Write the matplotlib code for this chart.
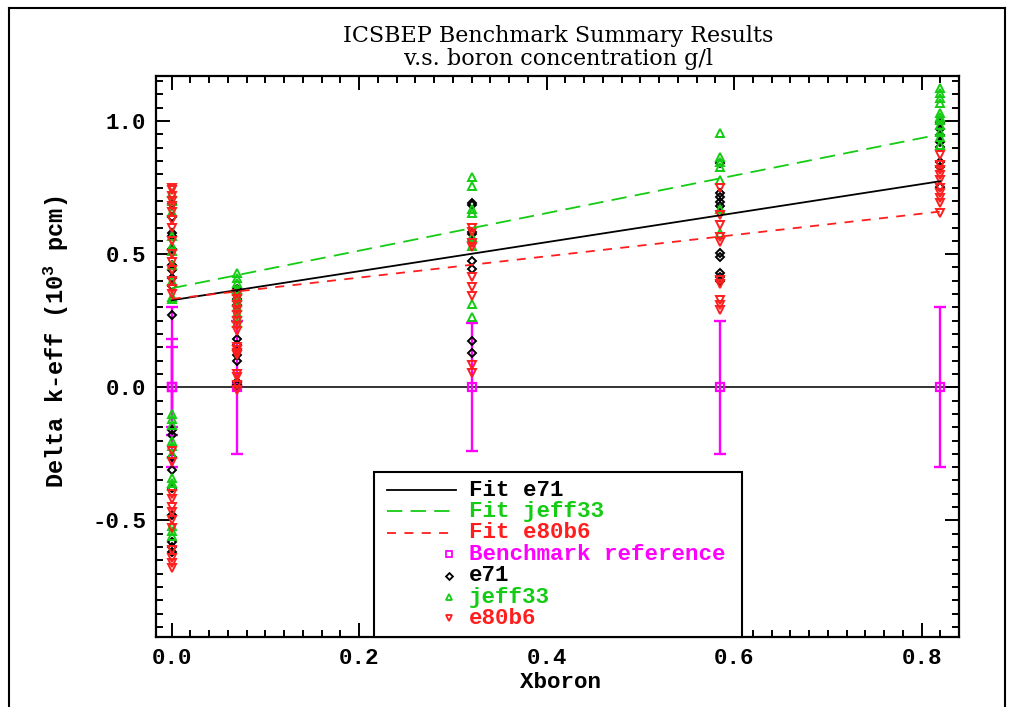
import numpy as np
import matplotlib
matplotlib.use("Agg")
import matplotlib.pyplot as plt
from matplotlib.lines import Line2D
from matplotlib.patches import Rectangle

plt.rcParams['axes.unicode_minus'] = False
plt.rcParams['lines.scale_dashes'] = False
plt.rcParams['mathtext.fontset'] = 'custom'
plt.rcParams['mathtext.rm'] = 'Liberation Mono:bold'
plt.rcParams['mathtext.it'] = 'Liberation Mono:bold'

# ---------------- data ----------------
boron = [0.0, 0.07, 0.32, 0.585, 0.82]

e71_dk = [
    [0.69, 0.64, 0.58, 0.57, 0.52, 0.46, 0.44, 0.41, 0.38, 0.27,
     -0.16, -0.18, -0.26, -0.31, -0.38, -0.48, -0.58, -0.60, -0.62],
    [0.37, 0.35, 0.33, 0.31, 0.18, 0.16, 0.14, 0.12, 0.10, 0.02, 0.01],
    [0.693, 0.685, 0.584, 0.576, 0.475, 0.443, 0.175, 0.128],
    [0.841, 0.728, 0.713, 0.697, 0.681, 0.503, 0.488, 0.430, 0.415, 0.400],
    [0.991, 0.969, 0.947, 0.922, 0.901, 0.847, 0.828, 0.753],
]
jeff33_dk = [
    [0.73, 0.70, 0.66, 0.57, 0.53, 0.51, 0.46, 0.40, 0.34, 0.33,
     -0.10, -0.12, -0.14, -0.20, -0.22, -0.25, -0.34, -0.36, -0.37,
     -0.52, -0.54, -0.56],
    [0.43, 0.41, 0.39, 0.37, 0.36, 0.34, 0.32, 0.30, 0.28, 0.26, 0.24],
    [0.791, 0.756, 0.668, 0.653, 0.566, 0.531, 0.313, 0.265],
    [0.956, 0.864, 0.847, 0.828, 0.778, 0.668, 0.578],
    [1.123, 1.106, 1.085, 1.066, 1.029, 1.016, 1.004, 0.985, 0.960,
     0.941, 0.910],
]
e80b6_dk = [
    [0.75, 0.74, 0.72, 0.70, 0.68, 0.66, 0.63, 0.60, 0.55, 0.50, 0.47,
     0.44, 0.40, 0.37, 0.35, -0.24, -0.28, -0.40, -0.42, -0.45, -0.47,
     -0.50, -0.53, -0.61, -0.64, -0.66, -0.68],
    [0.35, 0.33, 0.31, 0.29, 0.27, 0.25, 0.23, 0.21, 0.15, 0.14, 0.13,
     0.12, 0.05, 0.04, 0.01, -0.01],
    [0.597, 0.584, 0.541, 0.526, 0.413, 0.375, 0.343, 0.084, 0.053],
    [0.747, 0.647, 0.609, 0.566, 0.547, 0.403, 0.388, 0.328, 0.309, 0.290],
    [0.872, 0.835, 0.816, 0.797, 0.778, 0.747, 0.728, 0.710, 0.691, 0.653],
]

bench_x = [0.0, 0.0, 0.0, 0.07, 0.32, 0.585, 0.82]
bench_dk = [0.0, 0.0, 0.0, 0.0, 0.0, 0.0, 0.0]
bench_unc = [0.30, 0.18, 0.15, 0.25, 0.24, 0.25, 0.30]

fit_range = [0.0, 0.82]
fit_intercept = {'e71': 0.327, 'jeff33': 0.372, 'e80b6': 0.332}
fit_slope = {'e71': 0.545, 'jeff33': 0.705, 'e80b6': 0.40}

x_ticks = [0.0, 0.2, 0.4, 0.6, 0.8]
y_ticks = [-0.5, 0.0, 0.5, 1.0]

# ---------------- style ----------------
C_BLACK = 'black'
C_GREEN = '#14CC14'
C_RED = '#FF1E1E'
C_MAG = '#FF00FF'
MONO = 'Liberation Mono'
FS = 16.2
FW = 'bold'

W, H = 1016, 707
fig = plt.figure(figsize=(W / 100, H / 100), dpi=100)


def fx(px):
    return px / W


def fy(py):
    return 1 - py / H


ax_l, ax_r, ax_t, ax_b = 156, 959, 76, 637
ax = fig.add_axes([fx(ax_l), fy(ax_b), fx(ax_r) - fx(ax_l), fy(ax_t) - fy(ax_b)])
ax.set_xlim(-0.0168, 0.84)
ax.set_ylim(-0.9377, 1.169)

# zero line
ax.axhline(0.0, color='#222222', lw=1.3, zorder=1)

# benchmark reference with uncertainties
ax.errorbar(bench_x, bench_dk, yerr=bench_unc, fmt='none', ecolor=C_MAG,
            elinewidth=1.7, capsize=4.5, capthick=1.7, zorder=2)
ax.plot(bench_x, bench_dk, ls='none', marker='s', ms=6, mfc='none',
        mec=C_MAG, mew=1.6, zorder=3)


def expand(values):
    xs, ys = [], []
    for xb, vals in zip(boron, values):
        xs += [xb] * len(vals)
        ys += vals
    return xs, ys


xs, ys = expand(e71_dk)
ax.plot(xs, ys, ls='none', marker='D', ms=4.2, mfc='none', mec=C_BLACK,
        mew=1.4, zorder=4)
xs, ys = expand(jeff33_dk)
ax.plot(xs, ys, ls='none', marker='^', ms=5.8, mfc='none', mec=C_GREEN,
        mew=1.4, zorder=5)
xs, ys = expand(e80b6_dk)
ax.plot(xs, ys, ls='none', marker='v', ms=5.8, mfc='none', mec=C_RED,
        mew=1.4, zorder=6)

# fits
xf = np.array(fit_range)
ax.plot(xf, fit_intercept['e71'] + fit_slope['e71'] * xf, color=C_BLACK,
        lw=1.3, zorder=7)
ax.plot(xf, fit_intercept['jeff33'] + fit_slope['jeff33'] * xf, color=C_GREEN,
        lw=1.3, dashes=(11, 6), zorder=7)
ax.plot(xf, fit_intercept['e80b6'] + fit_slope['e80b6'] * xf, color=C_RED,
        lw=1.3, dashes=(6.5, 6), zorder=7)

# axes styling
for s in ax.spines.values():
    s.set_linewidth(1.6)
ax.set_xticks(x_ticks)
ax.set_xticklabels([f"{v:.1f}" for v in x_ticks])
ax.set_yticks(y_ticks)
ax.set_yticklabels([f"{v:.1f}" for v in y_ticks])
ax.set_xticks(np.arange(0.0, 0.84, 0.02), minor=True)
ax.set_yticks(np.arange(-0.9, 1.17, 0.05), minor=True)
ax.tick_params(which='both', direction='in', top=True, right=True, width=1.4,
               labelsize=FS)
ax.tick_params(which='major', length=10)
ax.tick_params(which='minor', length=5)
ax.tick_params(axis='x', pad=8)
ax.tick_params(axis='y', pad=7)
for lab in ax.get_xticklabels() + ax.get_yticklabels():
    lab.set_fontfamily(MONO)
    lab.set_fontweight(FW)

# labels & title
fig.text(fx(56), fy(342), "Delta k-eff (10$^{3}$ pcm)",
         rotation=90, ha='center', va='center', fontsize=17, family=MONO,
         weight=FW)
fig.text(fx(560), fy(682), "Xboron", ha='center', va='center', fontsize=FS,
         family=MONO, weight=FW)
fig.text(fx(558), fy(36), "ICSBEP Benchmark Summary Results", ha='center',
         va='center', fontsize=16, family='DejaVu Serif')
fig.text(fx(558), fy(59), "v.s. boron concentration g/l", ha='center',
         va='center', fontsize=16, family='DejaVu Serif')

# legend (drawn as in the original plot, symbols at the right of the sample)
leg_box = Rectangle((fx(374), fy(637)), fx(742) - fx(374), fy(472) - fy(637),
                    transform=fig.transFigure, fill=True, fc='white',
                    ec='black', lw=1.5, zorder=20)
fig.add_artist(leg_box)
leg_entries = [
    ('Fit e71', C_BLACK, dict(ls='-', marker=None)),
    ('Fit jeff33', C_GREEN, dict(dashes=(11, 6), marker=None)),
    ('Fit e80b6', C_RED, dict(dashes=(6.5, 6), marker=None)),
    ('Benchmark reference', C_MAG, dict(ls='none', marker='s', ms=4.5)),
    ('e71', C_BLACK, dict(ls='none', marker='D', ms=3.5)),
    ('jeff33', C_GREEN, dict(ls='none', marker='^', ms=4.5)),
    ('e80b6', C_RED, dict(ls='none', marker='v', ms=4.5)),
]
for i, (lab, col, kw) in enumerate(leg_entries):
    yrow = fy(490 + 21.4 * i)
    if kw.get('marker') is None:
        kw = {k: v for k, v in kw.items() if k != 'marker'}
        ln = Line2D([fx(387), fx(456)], [yrow, yrow], color=col, lw=1.3,
                    transform=fig.transFigure, zorder=21, **kw)
    else:
        ln = Line2D([fx(449)], [yrow], color=col, mfc='none', mec=col,
                    mew=1.3, transform=fig.transFigure, zorder=21, **kw)
    fig.add_artist(ln)
    fig.text(fx(469), yrow, lab, color=col, ha='left', va='center',
             fontsize=FS, family=MONO, weight=FW, zorder=22)

# outer frame of the page
for (x0, y0, x1, y1) in [(9, 8, 9, 707), (9, 8, 1005, 8), (1005, 8, 1005, 707)]:
    fig.add_artist(Line2D([fx(x0), fx(x1)], [fy(y0), fy(y1)], color='black',
                          lw=1.5, transform=fig.transFigure))

fig.savefig("out.png", dpi=100)
